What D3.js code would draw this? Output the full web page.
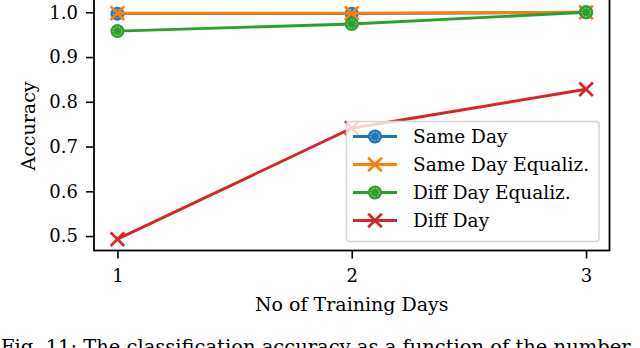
<!DOCTYPE html>
<html>
<head>
  <meta charset="utf-8">
  <script src="https://d3js.org/d3.v7.min.js"></script>
  <style>
    body {
      margin: 0;
      background: #fff;
      overflow: hidden;
    }

    text {
      font-family: "DejaVu Serif", serif;
      fill: #000;
    }
  </style>
</head>
<body>
  <script>
    // data
    var days = [1, 2, 3];
    var sameDay = [0.997, 0.997, 1.0];
    var sameDayEq = [0.998, 0.998, 1.0];
    var diffDayEq = [0.958, 0.974, 1.0];
    var diffDay = [0.493, 0.741, 0.828];
    var yTicks = [0.5, 0.6, 0.7, 0.8, 0.9, 1.0];

    var series = [
      { name: "Same Day", values: sameDay, color: "#1f77b4", marker: "o" },
      { name: "Same Day Equaliz.", values: sameDayEq, color: "#ff7f0e", marker: "x" },
      { name: "Diff Day Equaliz.", values: diffDayEq, color: "#2ca02c", marker: "o" },
      { name: "Diff Day", values: diffDay, color: "#d62728", marker: "x" }
    ];

    var W = 640, H = 348;
    var plotL = 94, plotR = 609.5, plotT = 0, plotB = 250.5;

    var svg = d3.select("body").append("svg")
      .attr("width", W)
      .attr("height", H);

    var x = d3.scaleLinear().domain([0.9, 3.1]).range([plotL, plotR]);
    var y = d3.scaleLinear().domain([0.4677, 1.0275]).range([plotB, plotT]);

    // axes
    var xAxis = svg.append("g")
      .attr("transform", "translate(0," + plotB + ")")
      .call(d3.axisBottom(x).tickValues(days).tickFormat(d3.format("d"))
        .tickSize(8).tickSizeOuter(0).tickPadding(11));
    var yAxis = svg.append("g")
      .attr("transform", "translate(" + plotL + ",0)")
      .call(d3.axisLeft(y).tickValues(yTicks).tickFormat(d3.format(".1f"))
        .tickSize(8).tickSizeOuter(0).tickPadding(8));

    [xAxis, yAxis].forEach(function (g) {
      g.select(".domain").remove();
      g.selectAll(".tick line").attr("stroke", "#000").attr("stroke-width", 1.6);
      g.selectAll(".tick text")
        .style("font-family", "DejaVu Serif")
        .style("font-size", "18px")
        .attr("fill", "#000");
    });

    function drawMarker(g, m, cx, cy, color) {
      if (m === "o") {
        g.append("circle").attr("cx", cx).attr("cy", cy).attr("r", 7)
          .attr("fill", color);
        g.append("circle").attr("cx", cx).attr("cy", cy).attr("r", 4.3)
          .attr("fill", "none").attr("stroke", "#fff")
          .attr("stroke-width", 0.8).attr("stroke-dasharray", "1.5,1.5")
          .attr("opacity", 0.85);
      } else {
        var s = 6.8;
        g.append("path")
          .attr("d", "M" + (cx - s) + "," + (cy - s) + "L" + (cx + s) + "," + (cy + s) +
            "M" + (cx - s) + "," + (cy + s) + "L" + (cx + s) + "," + (cy - s))
          .attr("stroke", color).attr("stroke-width", 2.7).attr("fill", "none");
      }
    }

    var line = d3.line()
      .x(function (d, i) { return x(days[i]); })
      .y(function (d) { return y(d); });

    series.forEach(function (s) {
      var g = svg.append("g");
      g.append("path")
        .attr("d", line(s.values))
        .attr("fill", "none")
        .attr("stroke", s.color)
        .attr("stroke-width", 2.9);
      s.values.forEach(function (v, i) {
        drawMarker(g, s.marker, x(days[i]), y(v), s.color);
      });
    });

    // frame
    svg.append("rect")
      .attr("x", plotL).attr("y", plotT - 1)
      .attr("width", plotR - plotL).attr("height", plotB - plotT + 1)
      .attr("fill", "none").attr("stroke", "#000").attr("stroke-width", 1.8);

    // legend
    var leg = svg.append("g");
    leg.append("rect")
      .attr("x", 346.5).attr("y", 121.5)
      .attr("width", 252.5).attr("height", 120)
      .attr("rx", 3)
      .attr("fill", "rgba(255,255,255,0.8)")
      .attr("stroke", "#d6d6d6").attr("stroke-width", 1.5);
    var rowY = [136.5, 164.5, 192.5, 220.5];
    series.forEach(function (s, i) {
      leg.append("line")
        .attr("x1", 353).attr("x2", 397)
        .attr("y1", rowY[i]).attr("y2", rowY[i])
        .attr("stroke", s.color).attr("stroke-width", 2.9);
      drawMarker(leg, s.marker, 375, rowY[i], s.color);
      leg.append("text")
        .attr("x", 413).attr("y", rowY[i])
        .attr("dy", "0.35em")
        .style("font-size", "18.5px")
        .text(s.name);
    });

    // axis titles
    svg.append("text")
      .attr("x", (x(1) + x(3)) / 2).attr("y", 310.5)
      .attr("text-anchor", "middle")
      .style("font-size", "19px")
      .text("No of Training Days");

    svg.append("text")
      .attr("transform", "translate(35,126) rotate(-90)")
      .attr("text-anchor", "middle")
      .style("font-size", "19px")
      .text("Accuracy");

    // caption (cut by the page edge)
    svg.append("text")
      .attr("x", 1).attr("y", 354)
      .style("font-size", "19.5px")
      .text("Fig. 11: The classification accuracy as a function of the number");
  </script>
</body>
</html>
